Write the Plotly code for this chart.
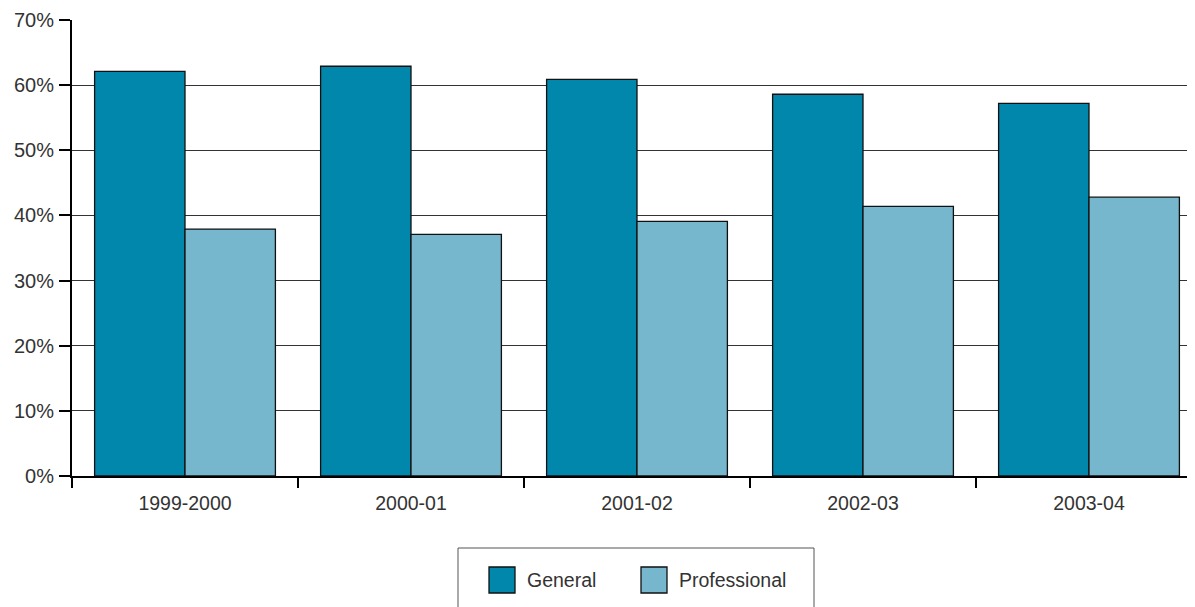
import plotly.graph_objects as go

years = ["1999-2000", "2000-01", "2001-02", "2002-03", "2003-04"]
general = [62.1, 62.9, 60.9, 58.6, 57.2]
professional = [37.9, 37.1, 39.1, 41.4, 42.8]
y_ticks = [0, 10, 20, 30, 40, 50, 60, 70]
y_tick_labels = [f"{v}%" for v in y_ticks]

c_general = "#0287AC"
c_prof = "#76B7CD"
font_family = "Liberation Sans, Arial, sans-serif"

# page body has an 8px margin; figure placed accordingly
OFF = 8
W, H = 1195 - OFF, 607 - OFF
L, T, B = 72 - OFF, 20 - OFF, 131
PW, PH = W - L, 456
PLOT_BOTTOM = 476
CAT_W = 226  # px per category in reference (plot runs past the right edge)


def px_x(x):
    return (x - 72) / PW


def px_y(y):
    return (PLOT_BOTTOM - y) / PH


fig = go.Figure()
fig.add_trace(go.Bar(x=years, y=general, name="General",
                     marker=dict(color=c_general, line=dict(color="#111", width=1.3))))
fig.add_trace(go.Bar(x=years, y=professional, name="Professional",
                     marker=dict(color=c_prof, line=dict(color="#111", width=1.3))))

fig.update_layout(
    width=W, height=H,
    margin=dict(l=L, r=0, t=T, b=B, pad=0),
    barmode="group", bargap=0.2, bargroupgap=0,
    plot_bgcolor="white", paper_bgcolor="white",
    showlegend=False,
    font=dict(family=font_family, size=20, color="#333"),
)
fig.update_yaxes(range=[0, 70], tickvals=y_ticks, ticktext=y_tick_labels,
                 showgrid=True, gridcolor="#333", gridwidth=1,
                 showline=True, linecolor="#000", linewidth=2,
                 ticks="outside", ticklen=11, tickwidth=2, tickcolor="#000",
                 ticklabelstandoff=1,
                 zeroline=False, fixedrange=True, automargin=False)
fig.update_xaxes(type="category", range=[-0.5, -0.5 + PW / CAT_W],
                 showline=True, linecolor="#000", linewidth=2,
                 ticks="outside", ticklen=10, tickwidth=2, tickcolor="#000",
                 tickson="boundaries", showgrid=False, automargin=False,
                 ticklabelstandoff=9, tickfont=dict(size=19.5))

# custom legend
fig.add_shape(type="rect", xref="paper", yref="paper",
              x0=px_x(458), x1=px_x(814),
              y0=px_y(640), y1=px_y(548),
              line=dict(color="#555", width=1), fillcolor="white")
legend_items = [("General", c_general, 489), ("Professional", c_prof, 641)]
for name, col, px in legend_items:
    fig.add_shape(type="rect", xref="paper", yref="paper",
                  x0=px_x(px), x1=px_x(px + 26),
                  y0=px_y(593), y1=px_y(567),
                  line=dict(color="#111", width=1.3), fillcolor=col)
    fig.add_annotation(xref="paper", yref="paper",
                       x=px_x(px + 36), y=px_y(580),
                       text=name, showarrow=False, xanchor="left", yanchor="middle",
                       font=dict(size=19.5, color="#333"))

fig.write_html("out.html")
